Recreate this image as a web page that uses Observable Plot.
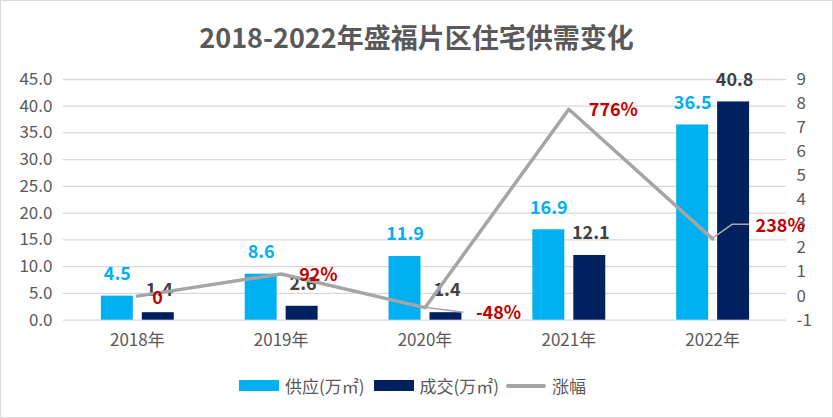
<!DOCTYPE html>
<html><head><meta charset="utf-8">
<script src="https://cdn.jsdelivr.net/npm/d3@7"></script>
<script src="https://cdn.jsdelivr.net/npm/@observablehq/plot@0.6"></script>
<style>
body{margin:0;background:#fff;}
#wrap{position:relative;width:833px;height:418px;box-sizing:border-box;border:1px solid #d9d9d9;overflow:hidden;font-family:"Noto Sans CJK SC","Open Sans",sans-serif;}
#title{position:absolute;top:14px;left:0;width:100%;text-align:center;font-size:27px;font-weight:bold;color:#595959;line-height:44px;}
#chart{position:absolute;top:59px;left:-1px;}
#legend{position:absolute;top:372px;left:-4px;width:100%;display:flex;justify-content:center;align-items:center;font-size:17px;color:#595959;}
.it{display:flex;align-items:center;margin:0 3px;}
.sw{width:40px;height:11px;margin-right:6px;}
.ln{width:40px;height:4px;border-radius:2px;background:#A5A5A5;margin-right:6px;}
</style></head>
<body>
<div id="wrap">
<div id="title">2018-2022年盛福片区住宅供需变化</div>
<div id="chart"></div>
<div id="legend">
<div class="it"><div class="sw" style="background:#00B0F0"></div>供应(万㎡)</div>
<div class="it" style="margin-left:6px"><div class="sw" style="background:#002060"></div>成交(万㎡)</div>
<div class="it" style="margin-left:4px"><div class="ln"></div>涨幅</div>
</div>
</div>
<script>
const years = ["2018年","2019年","2020年","2021年","2022年"];
const supply = [4.5, 8.6, 11.9, 16.9, 36.5];
const deal = [1.4, 2.6, 1.4, 12.1, 40.8];
const growth = [0, 0.92, -0.48, 7.76, 2.38];
const growthLabels = ["0","92%","-48%","776%","238%"];
const leftTicks = [0,5,10,15,20,25,30,35,40,45];
const rightTicks = [-1,0,1,2,3,4,5,6,7,8,9];

// map right axis (-1..9) onto left axis (0..45)
const toLeft = v => (v + 1) * 4.5;

const rows = years.map((y, i) => ({year: y, supply: supply[i], deal: deal[i], growth: growth[i], gl: growthLabels[i]}));

const font = '"Noto Sans CJK SC","Open Sans",sans-serif';
// label offsets for the growth labels (px), text anchored at start
const glOff = [[15, 2], [18, 1], [51, 6], [20, 1], [43, -13]];

const W = 833, H = 298;
const chart = Plot.plot({
  width: W, height: H,
  marginLeft: 63, marginRight: 46, marginTop: 19, marginBottom: 38,
  style: {fontFamily: font, background: "transparent", overflow: "visible"},
  x: {domain: years, padding: 0, axis: null},
  y: {domain: [0, 45], axis: null},
  marks: [
    Plot.gridY(leftTicks, {stroke: "#d9d9d9", strokeOpacity: 1, strokeWidth: 1.3}),
    Plot.axisY(leftTicks, {anchor: "left", tickSize: 0, tickPadding: 11, tickFormat: d => d.toFixed(1), fontSize: 17, color: "#595959", label: null}),
    Plot.axisY(rightTicks.map(toLeft), {anchor: "right", tickSize: 0, tickPadding: 10, tickFormat: d => String(Math.round(d / 4.5 - 1)), fontSize: 17, color: "#595959", label: null}),
    Plot.axisX(years, {tickSize: 0, tickPadding: 14, fontSize: 17, color: "#595959", label: null}),
    Plot.barY(rows, {x: "year", y: "supply", fill: "#00B0F0", insetLeft: 36, insetRight: 76}),
    Plot.barY(rows, {x: "year", y: "deal", fill: "#002060", insetLeft: 77, insetRight: 35}),
    Plot.text(rows, {x: "year", y: "supply", text: d => d.supply.toFixed(1), dx: -20, dy: -22, fill: "#00B0F0", fontSize: 18, fontWeight: "bold"}),
    Plot.text(rows, {x: "year", y: "deal", text: d => d.deal.toFixed(1), dx: 22, dy: -22, fill: "#404040", fontSize: 18, fontWeight: "bold"}),
    // leader lines for moved labels
    (index, scales) => {
      const g = d3.create("svg:g");
      const bw = scales.x.bandwidth();
      [2, 4].forEach(i => {
        const px = scales.x(years[i]) + bw / 2, py = scales.y(toLeft(growth[i]));
        const lx = px + glOff[i][0], ly = py + glOff[i][1] - 1;
        const pts = i === 4 ? [[px, py], [px + 20, ly], [lx - 6, ly]] : [[px, py], [lx - 12, ly]];
        g.append("path").attr("d", d3.line()(pts)).attr("fill", "none").attr("stroke", "#A5A5A5").attr("stroke-width", 1.5);
      });
      return g.node();
    },
    Plot.lineY(rows, {x: "year", y: d => toLeft(d.growth), stroke: "#A5A5A5", strokeWidth: 3.5}),
    ...rows.map((r, i) => Plot.text([r], {x: "year", y: d => toLeft(d.growth), text: "gl", fill: "#C00000", fontSize: 18, fontWeight: "bold",
      textAnchor: "start", dx: glOff[i][0], dy: glOff[i][1]}))
  ]
});
document.getElementById("chart").appendChild(chart);
</script>
</body></html>
